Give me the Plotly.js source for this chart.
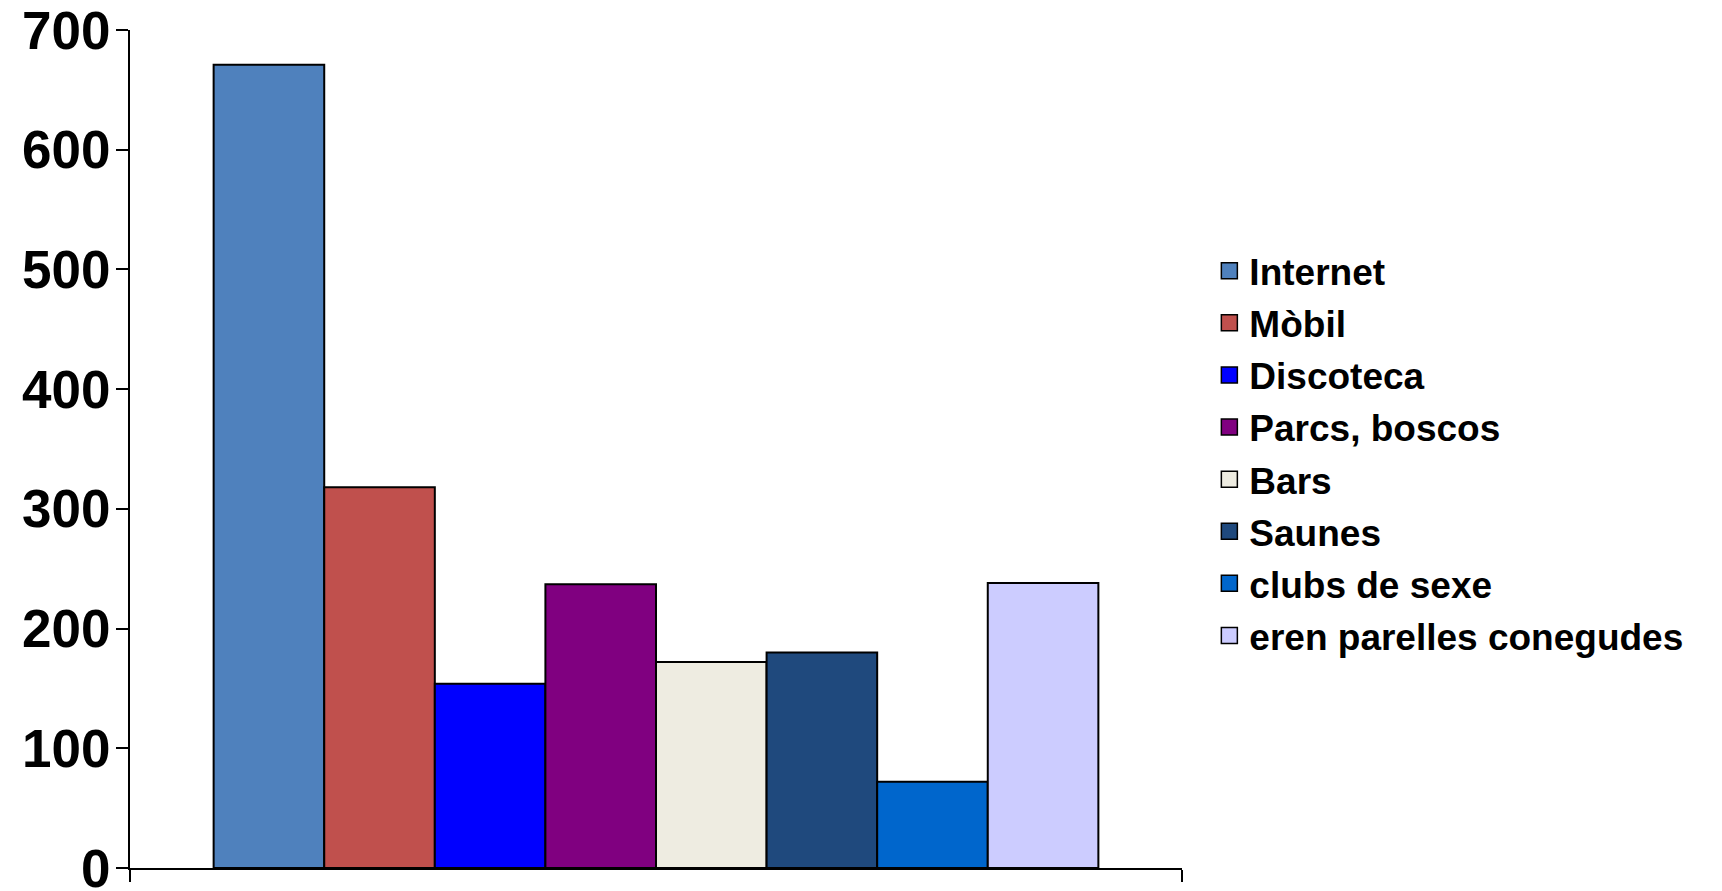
<!DOCTYPE html>
<html>
<head>
<meta charset="utf-8">
<script src="https://cdn.plot.ly/plotly-3.0.1.min.js"></script>
<style>html,body{margin:0;padding:0;background:#fff;}#chart{width:1722px;height:891px;}</style>
</head>
<body>
<div id="chart"></div>
<script>
const category = ["Llocs"];
const seriesNames = ["Internet", "Mòbil", "Discoteca", "Parcs, boscos", "Bars", "Saunes", "clubs de sexe", "eren parelles conegudes"];
const seriesValues = [671, 318, 154, 237, 172, 180, 72, 238];
const seriesColors = ["#4F81BD", "#C0504D", "#0000FF", "#800080", "#EEECE1", "#1F497D", "#0066CC", "#CCCCFF"];
const yTicks = [0, 100, 200, 300, 400, 500, 600, 700];

const barTraces = seriesNames.map((name, i) => ({
  type: "bar",
  name: name,
  x: category,
  y: [seriesValues[i]],
  marker: {color: seriesColors[i], line: {color: "#000", width: 2}},
  legendgroup: "g" + i,
  showlegend: false,
  hoverinfo: "name+y"
}));

// legend entries (larger square swatches), same names/colours as the bars
const legendTraces = seriesNames.map((name, i) => ({
  type: "scatter",
  mode: "markers",
  name: name,
  x: [null],
  y: [null],
  marker: {symbol: "square", size: 16, color: seriesColors[i], line: {color: "#000", width: 1.5}},
  legendgroup: "g" + i,
  showlegend: true,
  hoverinfo: "skip"
}));

const layout = {
  width: 1722,
  height: 891,
  margin: {l: 130, r: 540, t: 30, b: 23},
  paper_bgcolor: "#fff",
  plot_bgcolor: "#fff",
  barmode: "group",
  bargap: 0.159,
  bargroupgap: 0,
  font: {family: "Liberation Sans, Arial, sans-serif", color: "#000"},
  xaxis: {
    type: "category",
    showticklabels: false,
    tickson: "boundaries",
    ticks: "outside",
    ticklen: 12,
    tickwidth: 2,
    tickcolor: "#000",
    showline: true,
    linecolor: "#000",
    linewidth: 2,
    showgrid: false,
    zeroline: false
  },
  yaxis: {
    range: [0, 700],
    tickvals: yTicks,
    ticktext: yTicks.map(String),
    ticks: "outside",
    ticklen: 12,
    tickwidth: 2,
    tickcolor: "#000",
    showline: true,
    linecolor: "#000",
    linewidth: 2,
    showgrid: false,
    zeroline: false,
    ticklabeloverflow: "allow",
    ticklabelstandoff: -5,
    tickfont: {family: "Liberation Sans, Arial, sans-serif", size: 53, color: "#000", weight: "bold"}
  },
  showlegend: true,
  legend: {
    x: 1.026,
    xanchor: "left",
    y: 0.495,
    yanchor: "middle",
    traceorder: "grouped",
    tracegroupgap: 1,
    itemsizing: "trace",
    font: {family: "Liberation Sans, Arial, sans-serif", size: 37, color: "#000", weight: "bold"},
    bgcolor: "rgba(0,0,0,0)"
  }
};

Plotly.newPlot("chart", barTraces.concat(legendTraces), layout, {staticPlot: true});
</script>
</body>
</html>
